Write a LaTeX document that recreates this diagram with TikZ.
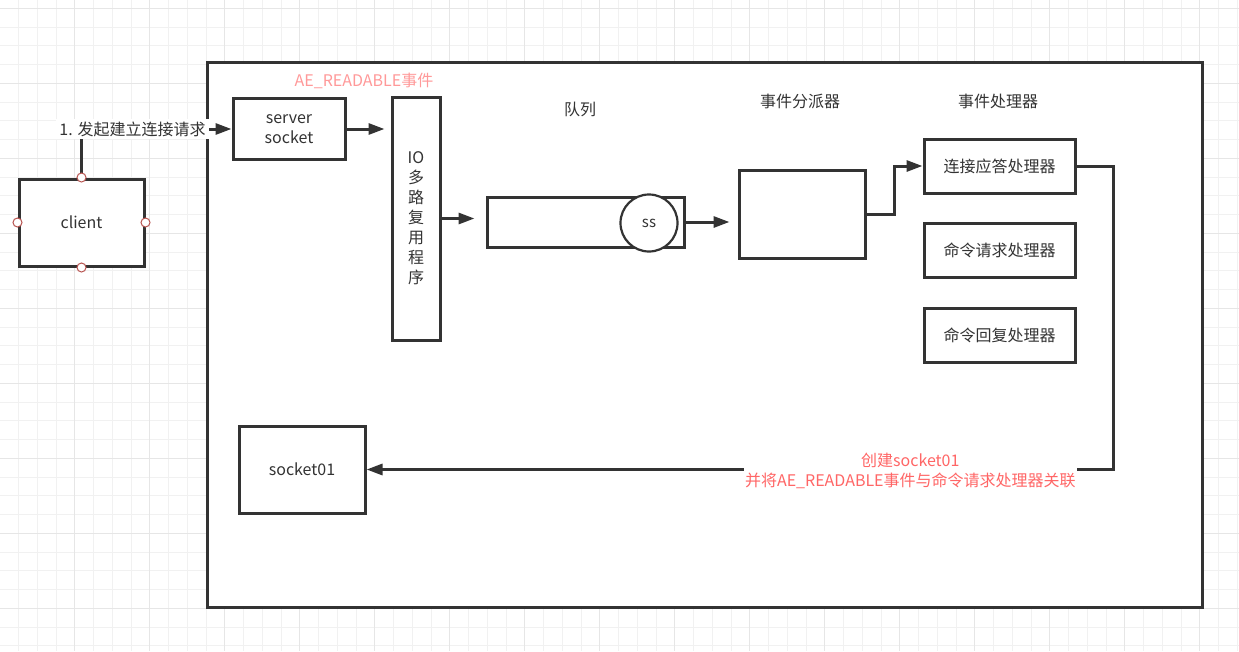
\documentclass[tikz,border=0pt]{standalone}
\usepackage{fontspec}
\setmainfont{Noto Sans CJK SC}
\usepackage{tikz}
\usetikzlibrary{positioning,arrows.meta,calc}

\definecolor{linegray}{HTML}{333333}
\definecolor{gridminor}{HTML}{F1F1F1}
\definecolor{gridmajor}{HTML}{E6E6E6}
\definecolor{lightred}{HTML}{FF9999}
\definecolor{darkred}{HTML}{FF6666}
\definecolor{portred}{HTML}{B85450}

\begin{document}
\begin{tikzpicture}[
    x=1pt, y=-1pt,
    font=\fontsize{16}{20}\selectfont,
    text=linegray,
    >={Triangle[length=16pt,width=11pt]},
    boxnode/.style={rectangle, draw=linegray, fill=white, line width=3pt, inner sep=0pt},
    handlernode/.style={boxnode, minimum width=151pt, minimum height=54pt},
    portnode/.style={circle, draw=portred, fill=white, line width=1pt, minimum size=9pt, inner sep=0pt},
    flowline/.style={->, draw=linegray, line width=3pt}
    ]
        \useasboundingbox (0,0) rectangle (1239,651);

        %Grid
        \fill[white] (0,0) rectangle (1239,651);
        \foreach \k [evaluate=\k as \gx using 18.5+18.75*\k] in {0,...,65}
            \draw[gridminor, line width=1pt] (\gx,0) -- (\gx,651);
        \foreach \k [evaluate=\k as \gy using 8.3+18.75*\k] in {0,...,34}
            \draw[gridminor, line width=1pt] (0,\gy) -- (1239,\gy);
        \foreach \k [evaluate=\k as \gx using 18.5+18.75*\k] in {3,7,...,63}
            \draw[gridmajor, line width=1pt] (\gx,0) -- (\gx,651);
        \foreach \k [evaluate=\k as \gy using 8.3+18.75*\k] in {0,4,...,32}
            \draw[gridmajor, line width=1pt] (0,\gy) -- (1239,\gy);

        %Frame
        \draw[draw=linegray, fill=white, line width=3pt] (207,62) rectangle (1202,607);

        %Nodes
        \node[boxnode, minimum width=125pt, minimum height=87pt]
            (client)    at (81.5,222.5)     {client};
        \node[boxnode, minimum width=112pt, minimum height=61pt, align=center]
            (sock)      at (289,129)        {server\\socket};
        \node[boxnode, minimum width=48pt, minimum height=243pt, align=center]
            (io)        at (416,218.5)      {IO\\多\\路\\复\\用\\程\\序};
        \node[boxnode, minimum width=197pt, minimum height=50pt]
            (queue)     at (585.5,222)      {};
        \node[circle, draw=linegray, fill=white, line width=2.2pt, minimum size=57pt, inner sep=0pt, font=\fontsize{15}{18}\selectfont]
            (ss)        at (649,223)        {ss};
        \node[boxnode, minimum width=126pt, minimum height=88pt]
            (disp)      at (802,214)        {};
        \node[handlernode]
            (accepth)   at (999.5,166)      {连接应答处理器};
        \node[handlernode]
            (requesth)  at (999.5,250.5)    {命令请求处理器};
        \node[handlernode]
            (replyh)    at (999.5,335)      {命令回复处理器};
        \node[boxnode, minimum width=126pt, minimum height=87pt]
            (sock01)    at (302,469.5)      {socket01};

        %Labels
        \node[text=lightred]
            (aelabel)   at (364,81)         {AE\_READABLE事件};
        \node
            (queuelabel) at (580,109)       {队列};
        \node
            (displabel) at (800,101)        {事件分派器};
        \node
            (handlerlabel) at (998,101)     {事件处理器};

        %Lines
        \draw[flowline]
            (client.north) |- node[pos=0.67, fill=white, inner sep=3pt] {1. 发起建立连接请求} (sock.west);
        \draw[flowline, shorten >=6pt]
            (sock.east) -- (sock.east -| io.west);
        \draw[flowline, shorten >=11pt]
            (io.east) -- (io.east -| queue.west);
        \draw[flowline, shorten >=8pt]
            (queue.east) -- (queue.east -| disp.west);
        \draw[flowline]
            (disp.east) -- ++(28,0) |- (accepth.west);
        \draw[flowline]
            (accepth.east) -- ++(37,0) |- node[pos=0.636, fill=white, text=darkred, align=center, inner sep=1pt, yshift=-1.5pt]
            {创建socket01\\并将AE\_READABLE事件与命令请求处理器关联} (sock01.east);

        %Ports
        \node[portnode] (portn) at (client.north) {};
        \node[portnode] (ports) at (client.south) {};
        \node[portnode] (portw) at (client.west)  {};
        \node[portnode] (porte) at (client.east)  {};
    \end{tikzpicture}
\end{document}
